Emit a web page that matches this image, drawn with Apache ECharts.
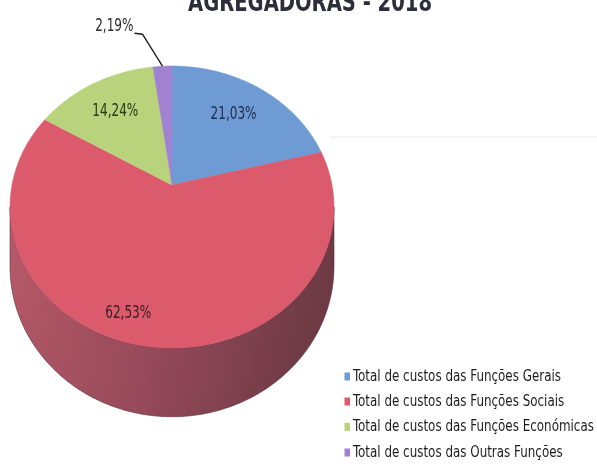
<!DOCTYPE html>
<html>
<head>
<meta charset="utf-8">
<script src="https://cdn.jsdelivr.net/npm/echarts@6/dist/echarts.min.js"></script>
<style>
  html, body { margin: 0; padding: 0; background: #fff; }
  #chartmain { width: 597px; height: 475px; }
</style>
</head>
<body>
<div id="chartmain"></div>
<script>
// dados do gráfico
var categories = [
	'Total de custos das Funções Gerais',
	'Total de custos das Funções Sociais',
	'Total de custos das Funções Económicas',
	'Total de custos das Outras Funções'
];
var values = [21.03, 62.53, 14.24, 2.19];
var labels = ['21,03%', '62,53%', '14,24%', '2,19%'];
var titleText = 'AGREGADORAS - 2018';
var colors = ['#6f9bd5', '#db5a6b', '#b9d27c', '#a181d2'];
var labelColors = ['#1f2c4a', '#3a1c24', '#2a3818', '#2a2a2a'];

var FONT = "'DejaVu Sans Condensed', 'DejaVu Sans', sans-serif";

// medir texto para comprimir na horizontal (letra estreita)
var ctx = document.createElement('canvas').getContext('2d');
function textWidth(text, size, weight) {
	ctx.font = (weight || 'normal') + ' ' + size + 'px ' + FONT;
	return ctx.measureText(text).width;
}
var legendSize = 16.5, labelSize = 18, titleSize = 27;
var legendScale = 208 / textWidth(categories[0], legendSize);
var labelScale = 46 / textWidth(labels[1], labelSize);
var titleScale = 244 / textWidth(titleText, titleSize, 'bold');

// geometria da "pizza" 3d (perspectiva)
var CX = 172, CY = 185, A = 137.6, B = 160, K = 0.156, D = 58;
var TH0 = Math.acos(-K);

var total = values.reduce(function(a, b) { return a + b; }, 0);
var starts = [], ends = [];
var acc = 0;
for (var i = 0; i < values.length; i++) {
	starts.push(acc / total * Math.PI * 2);
	acc += values[i];
	ends.push(acc / total * Math.PI * 2);
}

function proj(r, th, z) {
	var X = r * Math.sin(th), Y = r * Math.cos(th), w = 1 + K * Y;
	return [CX + B * X / w, CY + (-A * Y + D * z) / w];
}

function rim(a, b, z) {
	var n = Math.max(2, Math.ceil((b - a) / 0.02));
	var pts = [];
	for (var j = 0; j <= n; j++) {
		pts.push(proj(1, a + (b - a) * j / n, z));
	}
	return pts;
}

// posição das etiquetas (raio, desvio de ângulo)
var labelSpot = [[0.7, -0.02], [0.85, 0.14], [0.7, 0], null];

function labelText(i, x, y, align) {
	return {
		type : 'text',
		x : x, y : y,
		scaleX : labelScale,
		style : {
			text : labels[i], fill : labelColors[i],
			fontSize : labelSize, fontFamily : FONT,
			align : align, verticalAlign : 'middle'
		}
	};
}

function makeSeries(i) {
	return {
		type : 'custom',
		name : categories[i],
		coordinateSystem : 'none',
		itemStyle : { color : colors[i] },
		data : [values[i]],
		renderItem : function(params, api) {
			var s = starts[i], e = ends[i];
			var children = [];
			var lo = Math.max(s, TH0), hi = Math.min(e, Math.PI * 2 - TH0);
			if (hi > lo) {
				var side = rim(lo, hi, 0).concat(rim(lo, hi, 1).reverse());
				children.push({
					type : 'polygon',
					shape : { points : side },
					style : {
						fill : new echarts.graphic.LinearGradient(0, 0, 1, 0.3, [
							{ offset : 0, color : '#b65a68' },
							{ offset : 0.5, color : '#96495a' },
							{ offset : 1, color : '#6c3a44' }
						]),
						stroke : '#5a2e36',
						lineWidth : 0.6
					}
				});
			}
			var top = [proj(0, 0, 0)].concat(rim(s, e, 0));
			children.push({
				type : 'polygon',
				shape : { points : top },
				style : { fill : colors[i], stroke : colors[i], lineWidth : 0.5 }
			});
			var mid = (s + e) / 2;
			if (labelSpot[i]) {
				var p = proj(labelSpot[i][0], mid + labelSpot[i][1], 0);
				children.push(labelText(i, p[0], p[1], 'center'));
			} else {
				// etiqueta fora com linha de chamada
				var p0 = proj(1, mid, 0);
				var p1 = [p0[0] - 20, p0[1] - 32];
				var p2 = [p1[0] - 8, p1[1] - 1];
				children.push({
					type : 'polyline',
					shape : { points : [p0, p1, p2] },
					style : { stroke : '#1e1e1e', lineWidth : 1.4, fill : null }
				});
				children.push(labelText(i, p2[0] - 1, p2[1] - 7, 'right'));
			}
			return { type : 'group', children : children };
		}
	};
}

var series = [];
for (var i = 0; i < values.length; i++) {
	series.push(makeSeries(i));
}

// legenda desenhada à mão (texto estreito)
var graphics = [{
	type : 'line',
	shape : { x1 : 330, y1 : 137, x2 : 597, y2 : 137 },
	style : { stroke : '#ececec', lineWidth : 1 },
	silent : true
}, {
	type : 'text',
	x : 188, y : 17,
	scaleX : titleScale,
	style : {
		text : titleText, fill : '#2b2f3a',
		fontSize : titleSize, fontWeight : 'bold', fontFamily : FONT,
		align : 'left', verticalAlign : 'bottom'
	}
}];
var rowY = [376.5, 401.5, 427, 452.5];
for (var i = 0; i < categories.length; i++) {
	graphics.push({
		type : 'rect',
		shape : { x : 344.5, y : rowY[i] - 4, width : 5.5, height : 8 },
		style : { fill : colors[i] }
	});
	graphics.push({
		type : 'text',
		x : 353, y : rowY[i],
		scaleX : legendScale,
		style : {
			text : categories[i], fill : '#1c1c1c',
			fontSize : legendSize, fontFamily : FONT,
			align : 'left', verticalAlign : 'middle'
		}
	});
}

var option = {
	animation : false,
	graphic : graphics,
	series : series
};

// 初始化echarts实例
var myChart = echarts.init(document.getElementById('chartmain'));
myChart.setOption(option);
</script>
</body>
</html>
